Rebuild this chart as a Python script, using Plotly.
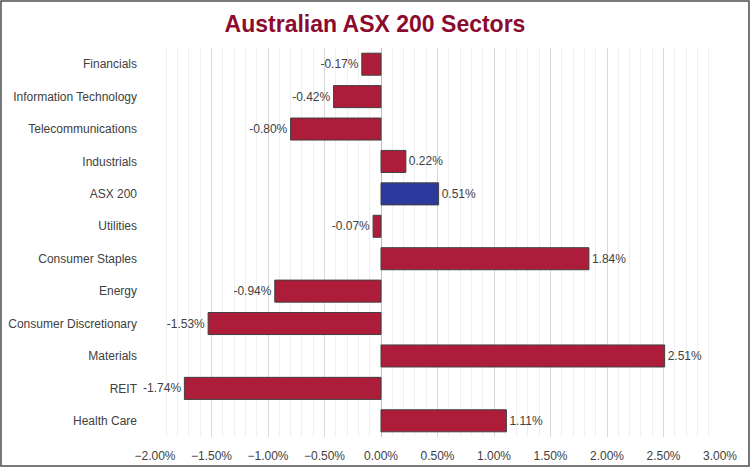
import plotly.graph_objects as go

sectors = ['Financials', 'Information Technology', 'Telecommunications', 'Industrials',
           'ASX 200', 'Utilities', 'Consumer Staples', 'Energy', 'Consumer Discretionary',
           'Materials', 'REIT', 'Health Care']
returns = [-0.0017, -0.0042, -0.0080, 0.0022, 0.0051, -0.0007, 0.0184, -0.0094,
           -0.0153, 0.0251, -0.0174, 0.0111]
tick_vals = [-0.02, -0.015, -0.01, -0.005, 0.0, 0.005, 0.01, 0.015, 0.02, 0.025, 0.03]

colors = ['#2b3a9c' if s == 'ASX 200' else '#ad1d3a' for s in sectors]

fig = go.Figure()
fig.add_trace(go.Bar(x=returns, y=sectors, orientation='h',
                     marker=dict(color=colors, line=dict(color='#404040', width=1)),
                     texttemplate='%{x:.2%}', textposition='outside', cliponaxis=False,
                     textfont=dict(size=12, color='#404040')))

fig.update_xaxes(range=[-0.02, 0.03], tickvals=tick_vals, tickformat='.2%',
                 showgrid=True, gridcolor='#d9d9d9', gridwidth=1,
                 minor=dict(dtick=0.001, showgrid=True, gridcolor='#efefef', gridwidth=1),
                 zeroline=True, zerolinecolor='#bfbfbf', zerolinewidth=1,
                 tickfont=dict(size=12, color='#404040'), ticks='', showline=False,
                 ticklabelstandoff=10, automargin=False)
fig.update_yaxes(autorange='reversed', tickfont=dict(size=12, color='#404040'),
                 ticks='', ticklabelstandoff=17, showgrid=False, automargin=False)

# outer chart border
fig.add_shape(type='rect', xref='paper', yref='paper',
              x0=-0.2726, x1=1.0513, y0=-0.0746, y1=1.1208,
              line=dict(color='#4d4d4d', width=1.5), layer='above')

fig.update_layout(width=750, height=467, bargap=0.32, showlegend=False,
                  plot_bgcolor='white', paper_bgcolor='white',
                  margin=dict(l=155, r=30, t=48, b=30, autoexpand=False),
                  font=dict(family='Liberation Sans, Arial', size=12, color='#404040'),
                  title=dict(text='<b>Australian ASX 200 Sectors</b>', x=0.5, xanchor='center',
                             y=0.949, yanchor='middle',
                             font=dict(size=23, color='#8b0a2e')))

fig.write_html('out.html', config={'displayModeBar': False},
               post_script="document.body.style.margin='0';")
